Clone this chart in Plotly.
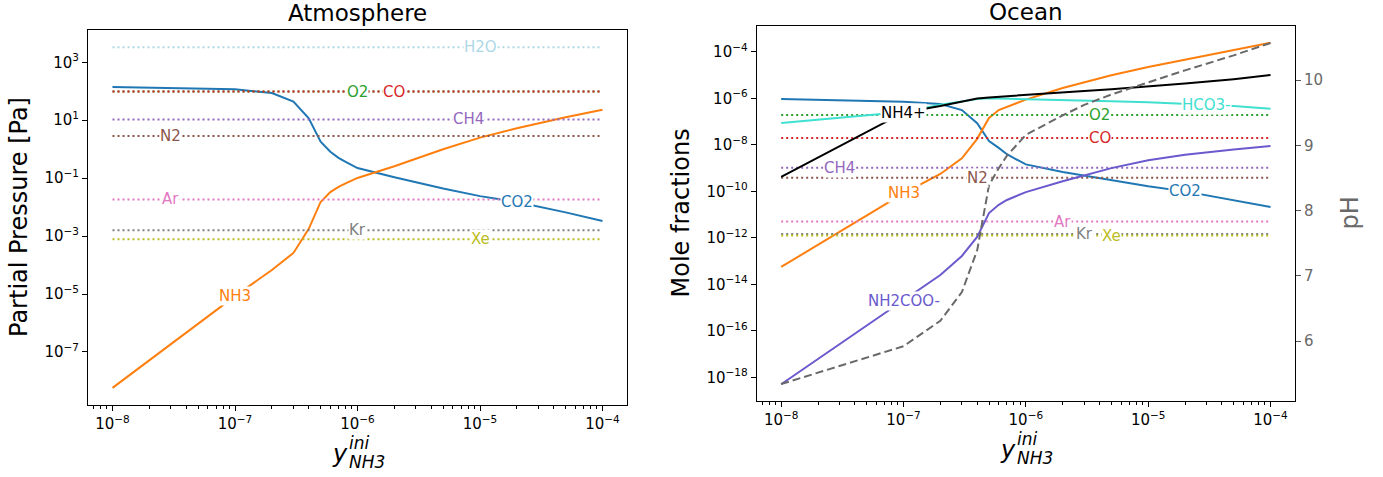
import numpy as np
import plotly.graph_objects as go

# ---------------- data ----------------
x_ini = [1e-8, 1e-7, 2e-7, 3e-7, 4e-7, 5e-7, 6e-7, 7e-7, 8e-7, 9e-7,
         1e-6, 2e-6, 3e-6, 5e-6, 1e-5, 2e-5, 5e-5, 1e-4]
x_const = [1e-8, 1e-4]

# Atmosphere partial pressures [Pa]
atm_co2 = [141, 117.5, 87.1, 43.7, 11.7, 1.82, 0.813, 0.501, 0.363, 0.275,
           0.224, 0.107, 0.0724, 0.0437, 0.024, 0.0151, 0.0066, 0.00331]
atm_nh3 = [5.75e-9, 8.51e-6, 6.76e-5, 2.63e-4, 1.78e-3, 1.51e-2, 3.31e-2, 5.01e-2,
           6.61e-2, 8.32e-2, 0.102, 0.257, 0.479, 1.0, 2.51, 5.25, 12.6, 22.9]
atm_const = {"O2": 9.8e1, "CO": 9.8e1, "CH4": 1.07e1, "N2": 2.86,
             "Ar": 1.85e-2, "Kr": 1.6e-3, "Xe": 7.8e-4, "H2O": 3.3e3}

# Ocean mole fractions
oc_co2 = [9.33e-7, 7.24e-7, 5.75e-7, 3.16e-7, 8.51e-8, 1.48e-8, 7.41e-9, 3.98e-9,
          2.69e-9, 1.91e-9, 1.45e-9, 6.76e-10, 4.68e-10, 3.02e-10, 1.66e-10,
          1.0e-10, 4.17e-11, 2.14e-11]
oc_nh3 = [5.62e-14, 8.13e-11, 5.62e-10, 2.63e-9, 1.82e-8, 1.45e-7, 3.16e-7, 4.27e-7,
          5.50e-7, 7.08e-7, 8.91e-7, 2.82e-6, 5.01e-6, 1.0e-5, 2.24e-5, 4.68e-5,
          1.20e-4, 2.51e-4]
oc_hco3 = [8.71e-8, 2.63e-7, 5.37e-7, 7.59e-7, 9.33e-7, 1.02e-6, 1.0e-6, 9.77e-7,
           9.55e-7, 9.33e-7, 9.12e-7, 8.51e-7, 8.13e-7, 7.59e-7, 6.76e-7, 5.89e-7,
           4.68e-7, 3.63e-7]
oc_nh4 = [4.17e-10, 2.45e-7, 4.68e-7, 7.41e-7, 1.0e-6, 1.10e-6, 1.17e-6, 1.23e-6,
          1.29e-6, 1.32e-6, 1.35e-6, 1.74e-6, 2.09e-6, 2.51e-6, 3.24e-6, 4.37e-6,
          6.76e-6, 1.02e-5]
oc_nh2coo = [5.01e-19, 2.0e-15, 2.51e-14, 1.66e-13, 1.10e-12, 1.17e-11, 2.63e-11,
             4.27e-11, 5.75e-11, 7.41e-11, 9.33e-11, 2.75e-10, 4.90e-10, 1.0e-9,
             2.19e-9, 3.80e-9, 6.31e-9, 8.91e-9]
oc_ph = [5.34, 5.92, 6.31, 6.75, 7.39, 8.39, 8.65, 8.84, 8.96, 9.07, 9.16, 9.46,
         9.62, 9.78, 9.97, 10.15, 10.38, 10.57]
oc_const = {"O2": 1.95e-7, "CO": 2.0e-8, "CH4": 1.05e-9, "N2": 3.9e-10,
            "Ar": 5.0e-12, "Kr": 1.48e-12, "Xe": 1.26e-12}

x_tickvals = [1e-8, 1e-7, 1e-6, 1e-5, 1e-4]
x_ticktext = ["10<sup>\u22128</sup>", "10<sup>\u22127</sup>", "10<sup>\u22126</sup>",
              "10<sup>\u22125</sup>", "10<sup>\u22124</sup>"]
atm_y_tickvals = [1e-7, 1e-5, 1e-3, 1e-1, 1e1, 1e3]
atm_y_ticktext = ["10<sup>\u22127</sup>", "10<sup>\u22125</sup>", "10<sup>\u22123</sup>",
                  "10<sup>\u22121</sup>", "10<sup>1</sup>", "10<sup>3</sup>"]
oc_y_tickvals = [1e-18, 1e-16, 1e-14, 1e-12, 1e-10, 1e-8, 1e-6, 1e-4]
oc_y_ticktext = ["10<sup>\u221218</sup>", "10<sup>\u221216</sup>", "10<sup>\u221214</sup>",
                 "10<sup>\u221212</sup>", "10<sup>\u221210</sup>", "10<sup>\u22128</sup>",
                 "10<sup>\u22126</sup>", "10<sup>\u22124</sup>"]
ph_tickvals = [6, 7, 8, 9, 10]

# ---------------- styles ----------------
COL = {"CO2": "#1f77b4", "NH3": "#ff7f0e", "O2": "#2ca02c", "CO": "#d62728",
       "CH4": "#9467bd", "N2": "#8c564b", "Ar": "#e377c2", "Kr": "#7f7f7f",
       "Xe": "#bcbd22", "H2O": "#add8e6", "HCO3-": "#40e0d0", "NH4+": "black",
       "NH2COO-": "#6a5acd"}
FONT = "DejaVu Sans"
W, H = 1383, 477
TICK_FS = 15
LABEL_FS = 15

fig = go.Figure()
annos = []


def add_line(xs, ys, color, xa, ya, dash="solid"):
    fig.add_trace(go.Scatter(x=xs, y=ys, mode="lines", xaxis=xa, yaxis=ya,
                             line=dict(color=color, width=2, dash=dash),
                             showlegend=False, hoverinfo="skip"))


def add_label(text, xv, xs, ys, color, xa, ya):
    ly = np.interp(np.log10(xv), np.log10(xs), np.log10(ys))
    annos.append(dict(x=float(np.log10(xv)), y=float(ly), xref=xa, yref=ya,
                      text=text, showarrow=False, bgcolor="white", borderpad=0,
                      font=dict(family=FONT, size=LABEL_FS, color=color)))


# ---- Atmosphere ----
add_line(x_ini, atm_co2, COL["CO2"], "x", "y")
add_line(x_ini, atm_nh3, COL["NH3"], "x", "y")
for sp in ["O2", "CO", "CH4", "N2", "Ar", "Kr", "Xe", "H2O"]:
    add_line(x_const, [atm_const[sp]] * 2, COL[sp], "x", "y", dash="2px,3px")

atm_label_x = {"H2O": 1e-5, "O2": 1e-6, "CO": 2e-6, "CH4": 8e-6, "N2": 3e-8,
               "Ar": 3e-8, "Kr": 1e-6, "Xe": 1e-5}
for sp, xv in atm_label_x.items():
    add_label(sp, xv, x_const, [atm_const[sp]] * 2, COL[sp], "x", "y")
add_label("CO2", 2e-5, x_ini, atm_co2, COL["CO2"], "x", "y")
add_label("NH3", 1e-7, x_ini, atm_nh3, COL["NH3"], "x", "y")

# ---- Ocean ----
add_line(x_ini, oc_co2, COL["CO2"], "x2", "y2")
add_line(x_ini, oc_nh3, COL["NH3"], "x2", "y2")
for sp in ["O2", "CO", "CH4", "N2", "Ar", "Kr", "Xe"]:
    add_line(x_const, [oc_const[sp]] * 2, COL[sp], "x2", "y2", dash="2px,3px")
add_line(x_ini, oc_hco3, COL["HCO3-"], "x2", "y2")
add_line(x_ini, oc_nh4, COL["NH4+"], "x2", "y2")
add_line(x_ini, oc_nh2coo, COL["NH2COO-"], "x2", "y2")
fig.add_trace(go.Scatter(x=x_ini, y=oc_ph, mode="lines", xaxis="x2", yaxis="y3",
                         line=dict(color="#696969", width=2, dash="8px,4px"),
                         showlegend=False, hoverinfo="skip"))

oc_label_x = {"O2": 4e-6, "CO": 4e-6, "CH4": 3e-8, "N2": 4e-7, "Ar": 2e-6,
              "Kr": 3e-6, "Xe": 5e-6}
for sp, xv in oc_label_x.items():
    add_label(sp, xv, x_const, [oc_const[sp]] * 2, COL[sp], "x2", "y2")
add_label("CO2", 2e-5, x_ini, oc_co2, COL["CO2"], "x2", "y2")
add_label("NH3", 1e-7, x_ini, oc_nh3, COL["NH3"], "x2", "y2")
add_label("HCO3-", 3e-5, x_ini, oc_hco3, COL["HCO3-"], "x2", "y2")
add_label("NH4+", 1e-7, x_ini, oc_nh4, COL["NH4+"], "x2", "y2")
add_label("NH2COO-", 1e-7, x_ini, oc_nh2coo, COL["NH2COO-"], "x2", "y2")

# ---------------- axes ----------------
def px_x(p):
    return p / W


def px_y(p):
    return 1 - p / H


minor_x = [m * 10.0 ** e for e in range(-9, -3) for m in range(2, 10)]
minor_x = [v for v in minor_x if 6.5e-9 < v < 1.5e-4]

common = dict(showline=True, linecolor="black", linewidth=1, mirror=True,
              ticks="outside", ticklen=5, tickwidth=1, tickcolor="black",
              showgrid=False, zeroline=False, automargin=False,
              tickfont=dict(family=FONT, size=TICK_FS, color="black"))
xcommon = dict(common, type="log", range=[-8.2, -3.8], tickmode="array",
               tickvals=x_tickvals, ticktext=x_ticktext,
               minor=dict(tickmode="array", tickvals=minor_x, ticks="outside",
                          ticklen=3, tickwidth=1, tickcolor="black", showgrid=False))

L0, L1 = 88, 627
R0, R1 = 756.7, 1295
LT, LB = 30, 405
RT, RB = 26, 401

fig.update_layout(
    width=W, height=H, margin=dict(l=0, r=0, t=0, b=0),
    paper_bgcolor="white", plot_bgcolor="white",
    font=dict(family=FONT, color="black"),
    xaxis=dict(xcommon, domain=[px_x(L0), px_x(L1)], anchor="y"),
    yaxis=dict(common, type="log", domain=[px_y(LB), px_y(LT)], anchor="x",
               range=[-8.83, 4.115], tickmode="array",
               tickvals=atm_y_tickvals, ticktext=atm_y_ticktext),
    xaxis2=dict(xcommon, domain=[px_x(R0), px_x(R1)], anchor="y2"),
    yaxis2=dict(common, type="log", domain=[px_y(RB), px_y(RT)], anchor="x2",
                range=[-19.02, -2.884], tickmode="array",
                tickvals=oc_y_tickvals, ticktext=oc_y_ticktext),
    yaxis3=dict(overlaying="y2", side="right", anchor="x2", range=[5.08, 10.83],
                showgrid=False, zeroline=False, showline=False, automargin=False,
                ticks="outside", ticklen=5, tickwidth=1, tickcolor="#555555",
                tickmode="array", tickvals=ph_tickvals,
                tickfont=dict(family=FONT, size=TICK_FS, color="#696969")),
)

# titles and axis labels
lc = (L0 + L1) / 2
rc = (R0 + R1) / 2
text_annos = [
    dict(text="Atmosphere", x=px_x(lc), y=px_y(12.7), size=23, color="black"),
    dict(text="Ocean", x=px_x(rc), y=px_y(11.5), size=23, color="black"),
    dict(text="Partial Pressure [Pa]", x=px_x(18.5), y=px_y((LT + LB) / 2),
         size=24, color="black", textangle=-90),
    dict(text="Mole fractions", x=px_x(680), y=px_y((RT + RB) / 2),
         size=24, color="black", textangle=-90),
    dict(text="pH", x=px_x(1349), y=px_y((RT + RB) / 2),
         size=24, color="#696969", textangle=-90),
]
for a in text_annos:
    annos.append(dict(text=a["text"], x=a["x"], y=a["y"], xref="paper", yref="paper",
                      xanchor="center", yanchor="middle", showarrow=False,
                      textangle=a.get("textangle", 0),
                      font=dict(family=FONT, size=a["size"], color=a["color"])))

# math x labels: y^{ini}_{NH3}
for cx, dy in [(lc, 0), (rc, -4)]:
    annos.append(dict(text="<i>y</i>", x=px_x(cx - 18), y=px_y(454 + dy), xref="paper",
                      yref="paper", xanchor="center", yanchor="middle", showarrow=False,
                      font=dict(family=FONT, size=24, color="black")))
    annos.append(dict(text="<i>ini</i>", x=px_x(cx - 11), y=px_y(443 + dy), xref="paper",
                      yref="paper", xanchor="left", yanchor="middle", showarrow=False,
                      font=dict(family=FONT, size=17, color="black")))
    annos.append(dict(text="<i>NH3</i>", x=px_x(cx - 11), y=px_y(462 + dy), xref="paper",
                      yref="paper", xanchor="left", yanchor="middle", showarrow=False,
                      font=dict(family=FONT, size=17, color="black")))

fig.update_layout(annotations=annos)
fig.write_html("out.html",
               config={"displayModeBar": False, "staticPlot": True},
               post_script="document.body.style.margin='0px';"
                           "document.documentElement.style.overflow='hidden';")
